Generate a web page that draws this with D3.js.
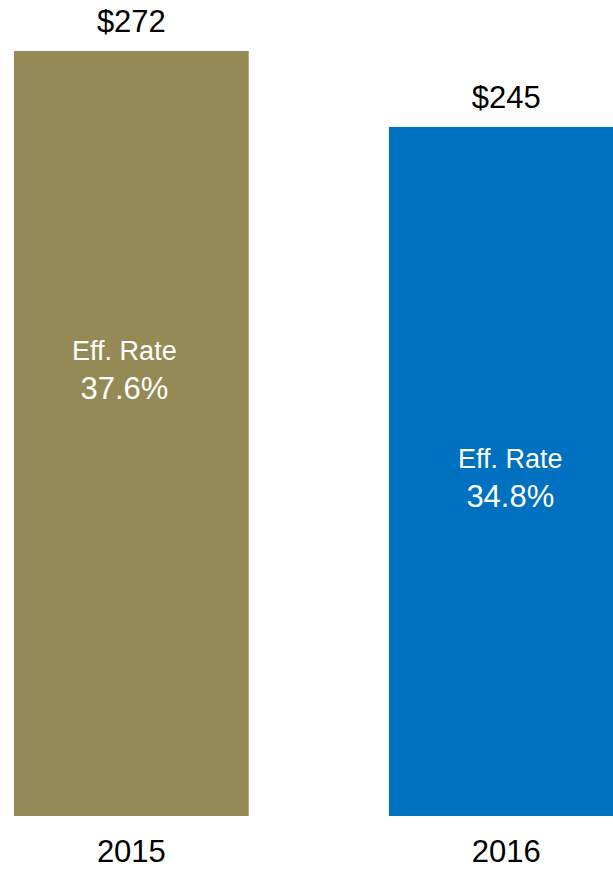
<!DOCTYPE html>
<html>
<head>
<meta charset="utf-8">
<script src="https://cdn.jsdelivr.net/npm/d3@7"></script>
<style>
  html, body { margin: 0; padding: 0; background: #fff; }
  svg { display: block; font-family: "Liberation Sans", Arial, sans-serif; }
</style>
</head>
<body>
<svg id="chart" width="613" height="869"></svg>
<script>
// Tax expense by year ($ millions) and effective tax rate
const years = ["2015", "2016"];
const taxValues = [272, 245];
const valueLabels = ["$272", "$245"];
const rateTitles = ["Eff. Rate", "Eff. Rate"];
const rateLabels = ["37.6%", "34.8%"];
const barColors = ["#958A55", "#0070C0"];

// Layout
const W = 613, H = 869;
const baseY = 816;
const topAt272 = 51;
// in-bar rate text placement (baseline of the title line) and horizontal nudges
const rateTitleY = [360, 468];
const rateDx = [-7, 4];

const svg = d3.select("#chart");

const x = d3.scaleBand()
  .domain(years)
  .range([14, 623.7])
  .paddingInner(0.374)
  .paddingOuter(0);

const y = d3.scaleLinear()
  .domain([0, 272])
  .range([baseY, topAt272]);

const data = years.map((yr, i) => ({
  year: yr, value: taxValues[i], label: valueLabels[i],
  title: rateTitles[i], rate: rateLabels[i], color: barColors[i], i
}));

// Bars
svg.append("g").selectAll("rect")
  .data(data)
  .join("rect")
  .attr("x", d => x(d.year))
  .attr("y", d => y(d.value))
  .attr("width", x.bandwidth())
  .attr("height", d => y(0) - y(d.value))
  .attr("fill", d => d.color);

// Value labels above bars
svg.append("g").selectAll("text")
  .data(data)
  .join("text")
  .attr("x", d => x(d.year) + x.bandwidth() / 2)
  .attr("y", d => y(d.value) - 19)
  .attr("text-anchor", "middle")
  .attr("font-size", 31)
  .attr("fill", "#000")
  .text(d => d.label);

// Effective rate text inside bars
const rate = svg.append("g").selectAll("g")
  .data(data)
  .join("g")
  .attr("transform", d => `translate(${x(d.year) + x.bandwidth() / 2 + rateDx[d.i]},${rateTitleY[d.i]})`);

rate.append("text")
  .attr("text-anchor", "middle")
  .attr("font-size", 27)
  .attr("fill", "#fff")
  .text(d => d.title);

rate.append("text")
  .attr("y", 39)
  .attr("text-anchor", "middle")
  .attr("font-size", 31)
  .attr("fill", "#fff")
  .text(d => d.rate);

// Category axis
const axis = svg.append("g")
  .attr("transform", `translate(0,${baseY})`)
  .call(d3.axisBottom(x).tickSize(0).tickPadding(0));
axis.select(".domain").remove();
axis.selectAll("text")
  .attr("y", 46)
  .attr("dy", null)
  .attr("font-size", 31)
  .attr("font-family", "\"Liberation Sans\", Arial, sans-serif")
  .attr("fill", "#000");
</script>
</body>
</html>
